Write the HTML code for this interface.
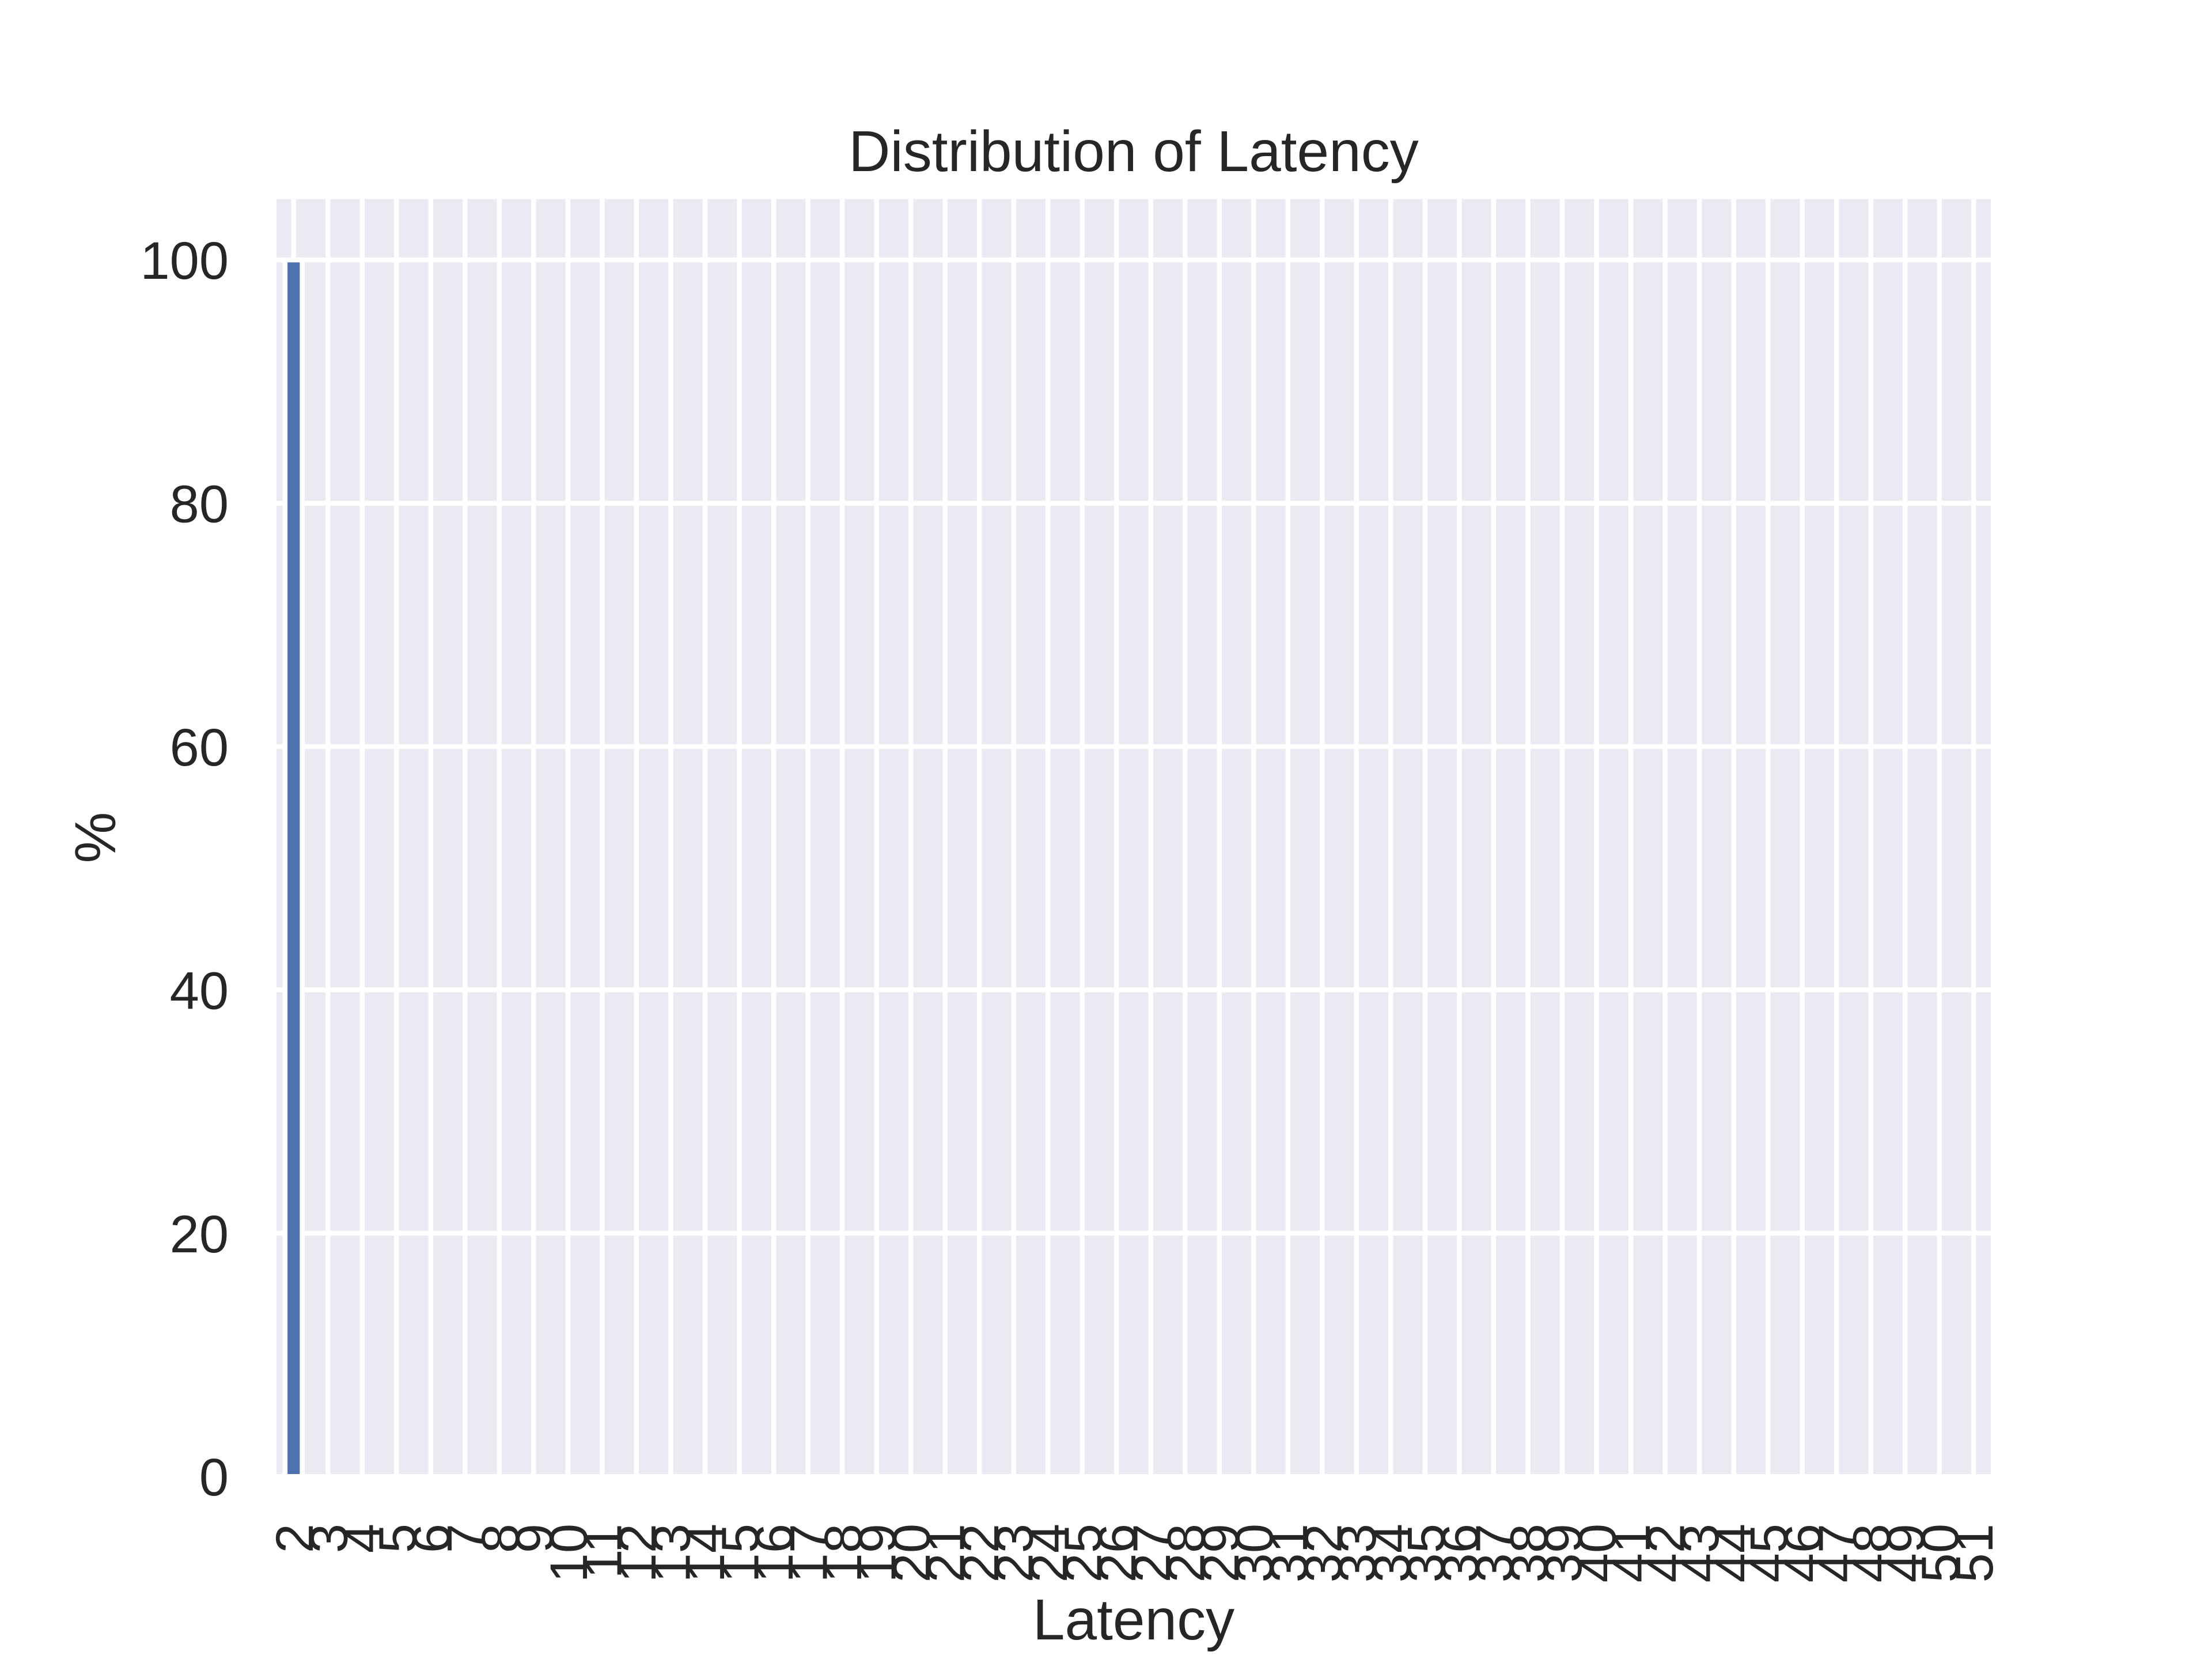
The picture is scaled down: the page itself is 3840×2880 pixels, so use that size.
<!DOCTYPE html>
<html><head><meta charset="utf-8"><style>
html,body{margin:0;padding:0;background:#fff;}
svg{display:block;font-family:"Liberation Sans",Arial,sans-serif;}
</style></head><body>
<svg id="chart" width="3840" height="2880" viewBox="0 0 3840 2880" xmlns="http://www.w3.org/2000/svg">
<rect x="0" y="0" width="3840" height="2880" fill="#ffffff"/>
<rect x="480" y="345.6" width="2976" height="2217.6" fill="#EAEAF2"/>
<g id="grid"></g>
<g id="bars"></g>
<g id="yticks"></g>
<g id="xticks"></g>
<text x="1968" y="297" font-size="100" fill="#262626" text-anchor="middle">Distribution of Latency</text>
<text x="1968" y="2846" font-size="100" fill="#262626" text-anchor="middle">Latency</text>
<text x="0" y="0" font-size="100" fill="#262626" text-anchor="middle" transform="translate(200,1454) rotate(-90)">%</text>
</svg>
<script>
const categories = [];
for (let c = 2; c <= 51; c++) categories.push(String(c));
const values = [100,0,0,0,0,0,0,0,0,0,0,0,0,0,0,0,0,0,0,0,0,0,0,0,0,0,0,0,0,0,0,0,0,0,0,0,0,0,0,0,0,0,0,0,0,0,0,0,0,0];
const yTicks = [0,20,40,60,80,100];

const NS = "http://www.w3.org/2000/svg";
const L = 480, R = 3456, T = 345.6, B = 2563.2, YMAX = 105;
const step = (R - L) / categories.length;
function xs(i){ return L + step * (i + 0.5); }
function ys(v){ return B - (v / YMAX) * (B - T); }
function mk(tag, attrs, parent){
  const el = document.createElementNS(NS, tag);
  for (const k in attrs) el.setAttribute(k, attrs[k]);
  parent.appendChild(el);
  return el;
}
const grid = document.getElementById('grid');
const bars = document.getElementById('bars');
const yt = document.getElementById('yticks');
const xt = document.getElementById('xticks');

yTicks.forEach(v => {
  const ln = mk('line', {x1:L, x2:R, y1:ys(v), y2:ys(v), stroke:'#ffffff', 'stroke-width':8.5}, grid);
  
  
  const t = mk('text', {x:397, y:ys(v)+33, 'font-size':92, fill:'#262626', 'text-anchor':'end'}, yt);
  t.textContent = String(v);
  
  
});
categories.forEach((c, i) => {
  const ln = mk('line', {x1:xs(i), x2:xs(i), y1:T, y2:B, stroke:'#ffffff', 'stroke-width':8.5}, grid);
  
  
  const w = step * 0.5;
  const h = B - ys(values[i]);
  if (h > 0) {
    const r = mk('rect', {x:xs(i)-w/2, y:ys(values[i]), width:w, height:h, fill:'#4C72B0', stroke:'#ffffff', 'stroke-width':8.5}, bars);
    
    
  }
  const t = mk('text', {x:0, y:0, 'font-size':92, fill:'#262626', 'text-anchor':'end', transform:'translate(' + (xs(i)+33) + ',2645) rotate(-90)'}, xt);
  t.textContent = c;
  
  
});
</script>
</body></html>
